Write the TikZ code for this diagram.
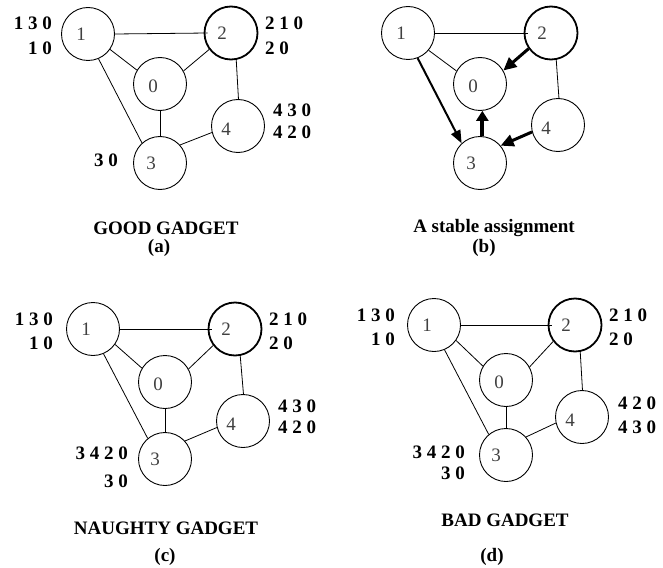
\documentclass[tikz,border=0pt]{standalone}
\usepackage{fontspec}
\setmainfont{Liberation Serif}
\usetikzlibrary{arrows.meta}
\begin{document}
\begin{tikzpicture}[x=1pt,y=-1pt,
  vtx/.style={circle,draw,line width=0.9pt,minimum size=53pt,inner sep=0pt},
  hub/.style={vtx,line width=1.8pt},
  num/.style={font=\fontsize{19}{19}\selectfont,text=black!75,inner sep=0pt},
  lab/.style={font=\bfseries\fontsize{19}{19}\selectfont,inner sep=0pt},
  edge/.style={line width=0.8pt},
  arr/.style={-{Triangle[length=13pt,width=12pt]}}]
\useasboundingbox (0,0) rectangle (663,567);
% ---------- (a)
\node[vtx] (a1) at (88,34) {};
\node[hub] (a2) at (231,33) {};
\node[vtx] (a0) at (160,84) {};
\node[vtx] (a4) at (238,126) {};
\node[vtx] (a3) at (160,163) {};
\node[num] (a1t) at ([xshift=-7pt]a1.center) {1};
\node[num] (a2t) at ([xshift=-9pt]a2.center) {2};
\node[num] (a0t) at ([xshift=-7pt,yshift=-2pt]a0.center) {0};
\node[num] (a4t) at ([xshift=-12pt,yshift=-3pt]a4.center) {4};
\node[num] (a3t) at ([xshift=-9pt]a3.center) {3};
\draw[edge] (a1.0) -- ([xshift=4pt]a2.180);
\draw[edge] (a1.-35) -- (a0.149);
\draw[edge] (a2.-143) -- (a0.29);
\draw[edge] (a2.-79) -- (a4.89);
\draw[edge] (a0.-90) -- (a3.90);
\draw[edge] (a3.42) -- (a4.194);
\draw[edge] (a1.-67) -- (a3.132);
\node[lab,anchor=east] (la1) at (52,23) {1 3 0};
\node[lab,anchor=east] (la2) at (52,48) {1 0};
\node[lab,anchor=west] (la3) at (265,23) {2 1 0};
\node[lab,anchor=west] (la4) at (265,48) {2 0};
\node[lab,anchor=west] (la5) at (273,110) {4 3 0};
\node[lab,anchor=west] (la6) at (273,132) {4 2 0};
\node[lab,anchor=east] (la7) at (118,160) {3 0};
\node[lab] (ta) at (166,228) {GOOD GADGET};
\node[lab] (ca) at (159,248) {(a)};
% ---------- (b)
\node[vtx] (b1) at (408,33) {};
\node[hub] (b2) at (551,33) {};
\node[vtx] (b0) at (480,84) {};
\node[vtx] (b4) at (558,125) {};
\node[vtx] (b3) at (480,163) {};
\node[num] (b1t) at ([xshift=-7pt]b1.center) {1};
\node[num] (b2t) at ([xshift=-9pt]b2.center) {2};
\node[num] (b0t) at ([xshift=-7pt,yshift=-2pt]b0.center) {0};
\node[num] (b4t) at ([xshift=-12pt,yshift=-3pt]b4.center) {4};
\node[num] (b3t) at ([xshift=-9pt]b3.center) {3};
\draw[edge] (b1.0) -- ([xshift=4pt]b2.180);
\draw[edge] (b1.-40) -- (b0.151);
\draw[edge] (b2.-79) -- (b4.88);
\draw[arr,line width=3pt] (b2.-145) -- (b0.30);
\draw[arr,line width=2pt,-{Triangle[length=13pt,width=10pt]}] (b1.-69) -- (b3.133);
\draw[arr,line width=4pt,-{Triangle[length=10pt,width=12pt]}] (b3.85) -- (b0.-85);
\draw[arr,line width=3pt] (b4.195) -- (b3.40);
\node[lab] (tb) at (494,228) {A stable assignment};
\node[lab] (cb) at (484,248) {(b)};
% ---------- (c)
\node[vtx] (c1) at (93,329) {};
\node[hub] (c2) at (235,329) {};
\node[vtx] (c0) at (165,382) {};
\node[vtx] (c4) at (243,421) {};
\node[vtx] (c3) at (165,459) {};
\node[num] (c1t) at ([xshift=-7pt]c1.center) {1};
\node[num] (c2t) at ([xshift=-9pt]c2.center) {2};
\node[num] (c0t) at ([xshift=-7pt,yshift=-2pt]c0.center) {0};
\node[num] (c4t) at ([xshift=-12pt,yshift=-3pt]c4.center) {4};
\node[num] (c3t) at ([xshift=-10pt]c3.center) {3};
\draw[edge] (c1.0) -- ([xshift=4pt]c2.180);
\draw[edge] (c1.-35) -- (c0.149);
\draw[edge] (c2.-143) -- (c0.29);
\draw[edge] (c2.-79) -- (c4.89);
\draw[edge] (c0.-90) -- (c3.90);
\draw[edge] (c3.42) -- (c4.194);
\draw[edge] (c1.-67) -- (c3.130);
\node[lab,anchor=east] (lc1) at (53,319) {1 3 0};
\node[lab,anchor=east] (lc2) at (53,343) {1 0};
\node[lab,anchor=west] (lc3) at (269,319) {2 1 0};
\node[lab,anchor=west] (lc4) at (269,343) {2 0};
\node[lab,anchor=west] (lc5) at (278,406) {4 3 0};
\node[lab,anchor=west] (lc6) at (278,427) {4 2 0};
\node[lab,anchor=east] (lc7) at (128,453) {3 4 2 0};
\node[lab,anchor=east] (lc8) at (128,481) {3 0};
\node[lab] (tc) at (166,528) {NAUGHTY GADGET};
\node[lab] (cc) at (165,557) {(c)};
% ---------- (d)
\node[vtx] (d1) at (434,325) {};
\node[hub] (d2) at (575,325) {};
\node[vtx] (d0) at (506,380) {};
\node[vtx] (d4) at (582,417) {};
\node[vtx] (d3) at (506,455) {};
\node[num] (d1t) at ([xshift=-7pt]d1.center) {1};
\node[num] (d2t) at ([xshift=-9pt]d2.center) {2};
\node[num] (d0t) at ([xshift=-7pt,yshift=-2pt]d0.center) {0};
\node[num] (d4t) at ([xshift=-12pt,yshift=-3pt]d4.center) {4};
\node[num] (d3t) at ([xshift=-10pt]d3.center) {3};
\draw[edge] (d1.0) -- ([xshift=4pt]d2.180);
\draw[edge] (d1.-35) -- (d0.149);
\draw[edge] (d2.-143) -- (d0.29);
\draw[edge] (d2.-79) -- (d4.89);
\draw[edge] (d0.-90) -- (d3.90);
\draw[edge] (d3.42) -- (d4.193);
\draw[edge] (d1.-67) -- (d3.130);
\node[lab,anchor=east] (ld1) at (395,315) {1 3 0};
\node[lab,anchor=east] (ld2) at (395,339) {1 0};
\node[lab,anchor=west] (ld3) at (609,315) {2 1 0};
\node[lab,anchor=west] (ld4) at (609,339) {2 0};
\node[lab,anchor=west] (ld5) at (618,403) {4 2 0};
\node[lab,anchor=west] (ld6) at (618,427) {4 3 0};
\node[lab,anchor=east] (ld7) at (465,452) {3 4 2 0};
\node[lab,anchor=east] (ld8) at (465,473) {3 0};
\node[lab] (td) at (505,520) {BAD GADGET};
\node[lab] (cd) at (492,557) {(d)};
\end{tikzpicture}
\end{document}
